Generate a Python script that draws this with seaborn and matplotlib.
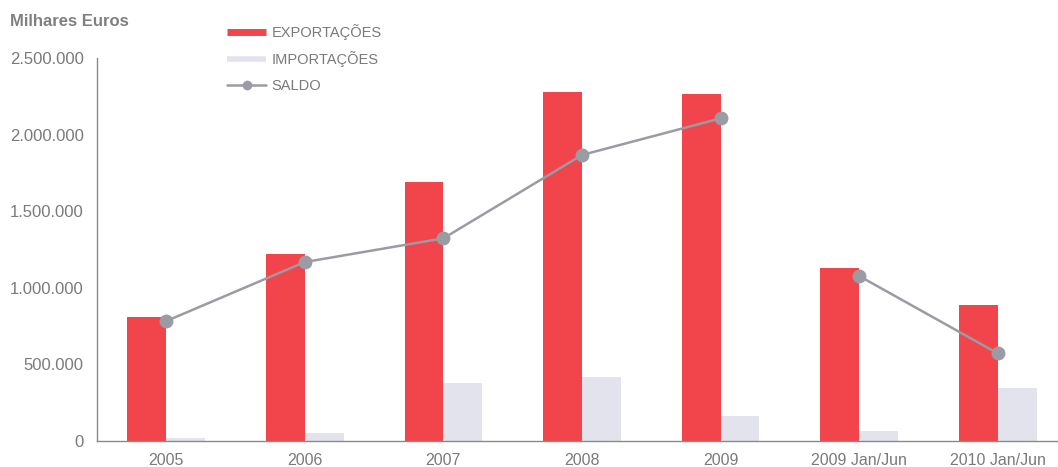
import matplotlib
matplotlib.use("Agg")
import matplotlib.pyplot as plt
import numpy as np
import pandas as pd
import seaborn as sns
from matplotlib.lines import Line2D
from matplotlib.ticker import FuncFormatter

# Valores em milhares de euros
periodos = ["2005", "2006", "2007", "2008", "2009", "2009 Jan/Jun", "2010 Jan/Jun"]
exportacoes = [807000, 1222000, 1693000, 2280000, 2263000, 1127000, 888000]
importacoes = [20000, 54000, 379000, 418000, 165000, 65000, 348000]
saldo = [783000, 1168000, 1323000, 1867000, 2106000, 1077000, 572000]
grupo_saldo = ["anual", "anual", "anual", "anual", "anual", "semestre", "semestre"]

COR_EXP = "#F2444B"
COR_IMP = "#E3E3EE"
COR_SALDO = "#9B9BA3"
COR_TEXTO = "#7A7A7A"
COR_EIXO = "#8A8A8A"

sns.set_style("white")
plt.rcParams["font.family"] = ["Liberation Sans", "DejaVu Sans"]

barras = pd.DataFrame({
    "Periodo": periodos * 2,
    "Valor": exportacoes + importacoes,
    "Tipo": ["EXPORTAÇÕES"] * len(periodos) + ["IMPORTAÇÕES"] * len(periodos),
})
linha = pd.DataFrame({
    "pos": np.arange(len(periodos)),
    "Saldo": saldo,
    "grupo": grupo_saldo,
})

fig = plt.figure(figsize=(10.58, 4.67), dpi=100)
ax = fig.add_axes([97 / 1058, 26 / 467, 970 / 1058, 383 / 467])

sns.barplot(
    data=barras, x="Periodo", y="Valor", hue="Tipo", order=periodos,
    palette=[COR_EXP, COR_IMP], width=0.56, saturation=1, linewidth=0,
    legend=False, ax=ax,
)
sns.lineplot(
    data=linha, x="pos", y="Saldo", units="grupo", estimator=None,
    color=COR_SALDO, linewidth=1.8, marker="o", markersize=10,
    markeredgewidth=0, ax=ax,
)

ax.set_xlim(-0.5, len(periodos) - 0.5)
ax.set_ylim(0, 2500000)
ax.set_xlabel("")
ax.set_ylabel("")

ax.yaxis.set_major_formatter(FuncFormatter(lambda v, _: f"{int(v):,}".replace(",", ".")))
ax.set_yticks(np.arange(0, 2500001, 500000))
ax.set_xticks(range(len(periodos)))
ax.set_xticklabels(periodos)
ax.set_xticks(np.arange(-0.5, len(periodos) - 0.5, 1), minor=True)

ax.tick_params(axis="y", direction="inout", length=5, width=1, color=COR_EIXO,
               labelsize=12, labelcolor=COR_TEXTO, pad=7)
ax.tick_params(axis="x", which="major", length=0, labelsize=11.5,
               labelcolor=COR_TEXTO, pad=8.5)
ax.tick_params(axis="x", which="minor", direction="inout", length=7, width=1,
               color=COR_EIXO)

for lado in ["top", "right"]:
    ax.spines[lado].set_visible(False)
for lado in ["left", "bottom"]:
    ax.spines[lado].set_color(COR_EIXO)
    ax.spines[lado].set_linewidth(1)

fig.text(10 / 1058, 1 - 21 / 467, "Milhares Euros", fontsize=12, fontweight="bold",
         color="#808080", va="center", ha="left")

handles = [
    Line2D([0], [0], color=COR_EXP, lw=5, solid_capstyle="butt"),
    Line2D([0], [0], color=COR_IMP, lw=4, solid_capstyle="butt"),
    Line2D([0], [0], color=COR_SALDO, lw=1.8, marker="o", markersize=7, markeredgewidth=0),
]
fig.legend(
    handles, ["EXPORTAÇÕES", "IMPORTAÇÕES", "SALDO"],
    loc="upper left", bbox_to_anchor=(227 / 1058, 1 - 24 / 467),
    frameon=False, fontsize=10.5, labelcolor=COR_TEXTO,
    handlelength=2.7, handletextpad=0.35, labelspacing=0.78,
    borderpad=0, borderaxespad=0,
)

fig.savefig("out.png", dpi=100)
